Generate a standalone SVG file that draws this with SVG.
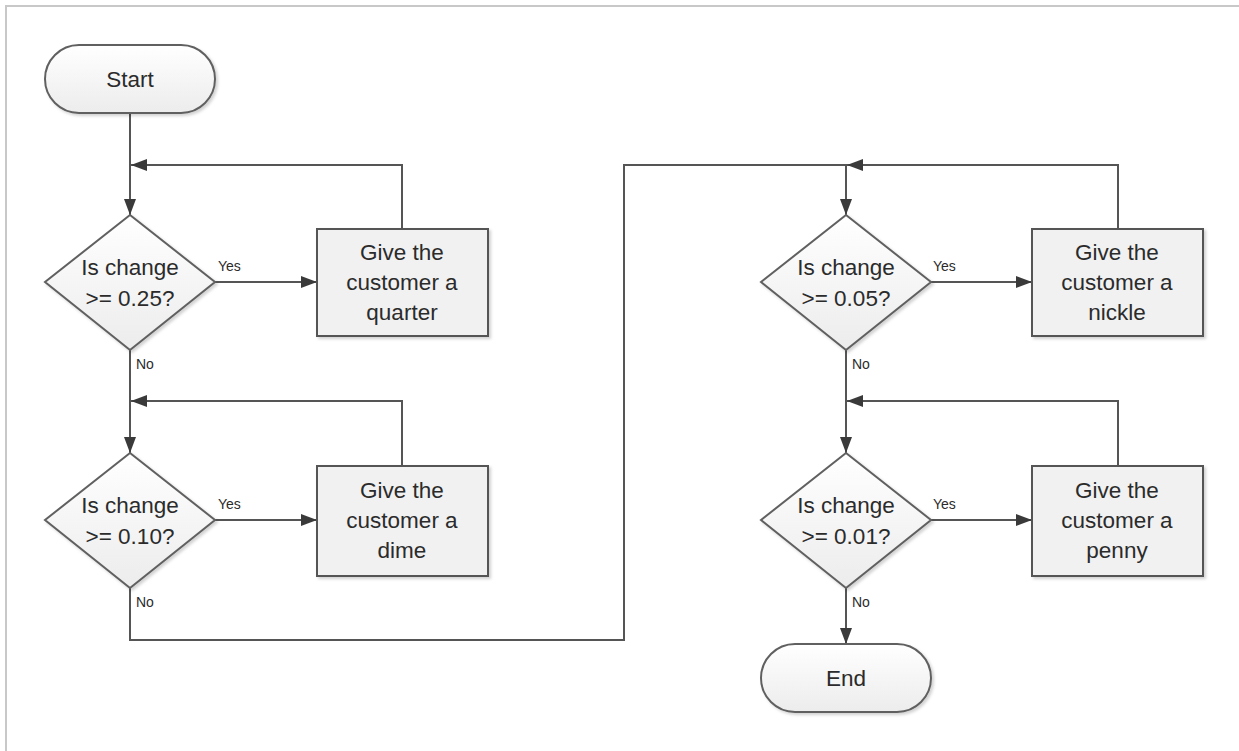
<svg xmlns="http://www.w3.org/2000/svg" width="1239" height="751" viewBox="0 0 1239 751">
<defs>
<linearGradient id="g" x1="0" y1="0" x2="0" y2="1">
<stop offset="0" stop-color="#ffffff"/>
<stop offset="1" stop-color="#ececec"/>
</linearGradient>
<filter id="sh" x="-10%" y="-10%" width="125%" height="130%">
<feDropShadow dx="2" dy="2" stdDeviation="1.5" flood-color="#000" flood-opacity="0.18"/>
</filter>
<marker id="ar" viewBox="0 0 16 12" refX="16" refY="6" markerWidth="16" markerHeight="12" markerUnits="userSpaceOnUse" orient="auto">
<path d="M0,0 L16,6 L0,12 Z" fill="#3a3a3a"/>
</marker>
</defs>
<style>
.shape{fill:url(#g);stroke:#606060;stroke-width:2;filter:url(#sh)}
.box{fill:#f1f1f1;stroke:#555;stroke-width:2;filter:url(#sh)}
.t{font-family:"Liberation Sans",Arial,sans-serif;font-size:22.5px;fill:#2b2b2b;text-anchor:middle}
.lbl{font-family:"Liberation Sans",Arial,sans-serif;font-size:14px;fill:#2b2b2b}
.c{fill:none;stroke:#555;stroke-width:2}
.ca{fill:none;stroke:#555;stroke-width:2;marker-end:url(#ar)}
</style>
<rect width="1239" height="751" fill="#fff"/>
<path d="M6,751 V6 H1239" fill="none" stroke="#c8c8c8" stroke-width="2"/>

<g id="connectors">
<path class="ca" d="M130,113 V215"/>
<path class="ca" d="M402,229 V165 H131"/>
<path class="ca" d="M215,282 H317"/>
<path class="ca" d="M130,350 V453"/>
<path class="ca" d="M402,466 V401 H131"/>
<path class="ca" d="M215,520 H317"/>
<path class="ca" d="M130,588 V640 H624 V165 H846 V215"/>
<path class="ca" d="M1118,229 V165 H847"/>
<path class="ca" d="M931,282 H1032"/>
<path class="ca" d="M846,350 V453"/>
<path class="ca" d="M1118,466 V401 H847"/>
<path class="ca" d="M931,520 H1032"/>
<path class="ca" d="M846,588 V644"/>
<text class="lbl" x="218" y="271">Yes</text>
<text class="lbl" x="136" y="369">No</text>
<text class="lbl" x="218" y="509">Yes</text>
<text class="lbl" x="136" y="607">No</text>
<text class="lbl" x="933" y="271">Yes</text>
<text class="lbl" x="852" y="369">No</text>
<text class="lbl" x="933" y="509">Yes</text>
<text class="lbl" x="852" y="607">No</text>
</g>

<g id="start">
<rect class="shape" x="45" y="45" width="170" height="68" rx="34"/>
<text class="t" x="130" y="87">Start</text>
</g>

<g id="dec1">
<polygon class="shape" points="130,215 215,282 130,350 45,282"/>
<text class="t" x="130" y="275">Is change</text>
<text class="t" x="130" y="306">&gt;= 0.25?</text>
</g>
<g id="quarter">
<rect class="box" x="317" y="229" width="171" height="107"/>
<text class="t" x="402" y="260">Give the</text>
<text class="t" x="402" y="290">customer a</text>
<text class="t" x="402" y="320">quarter</text>
</g>

<g id="dec2">
<polygon class="shape" points="130,453 215,520 130,588 45,520"/>
<text class="t" x="130" y="513">Is change</text>
<text class="t" x="130" y="544">&gt;= 0.10?</text>
</g>
<g id="dime">
<rect class="box" x="317" y="466" width="171" height="110"/>
<text class="t" x="402" y="498">Give the</text>
<text class="t" x="402" y="528">customer a</text>
<text class="t" x="402" y="558">dime</text>
</g>

<g id="dec3">
<polygon class="shape" points="846,215 931,282 846,350 761,282"/>
<text class="t" x="846" y="275">Is change</text>
<text class="t" x="846" y="306">&gt;= 0.05?</text>
</g>
<g id="nickle">
<rect class="box" x="1032" y="229" width="171" height="107"/>
<text class="t" x="1117" y="260">Give the</text>
<text class="t" x="1117" y="290">customer a</text>
<text class="t" x="1117" y="320">nickle</text>
</g>

<g id="dec4">
<polygon class="shape" points="846,453 931,520 846,588 761,520"/>
<text class="t" x="846" y="513">Is change</text>
<text class="t" x="846" y="544">&gt;= 0.01?</text>
</g>
<g id="penny">
<rect class="box" x="1032" y="466" width="171" height="110"/>
<text class="t" x="1117" y="498">Give the</text>
<text class="t" x="1117" y="528">customer a</text>
<text class="t" x="1117" y="558">penny</text>
</g>

<g id="end">
<rect class="shape" x="761" y="644" width="170" height="68" rx="34"/>
<text class="t" x="846" y="686">End</text>
</g>
</svg>
